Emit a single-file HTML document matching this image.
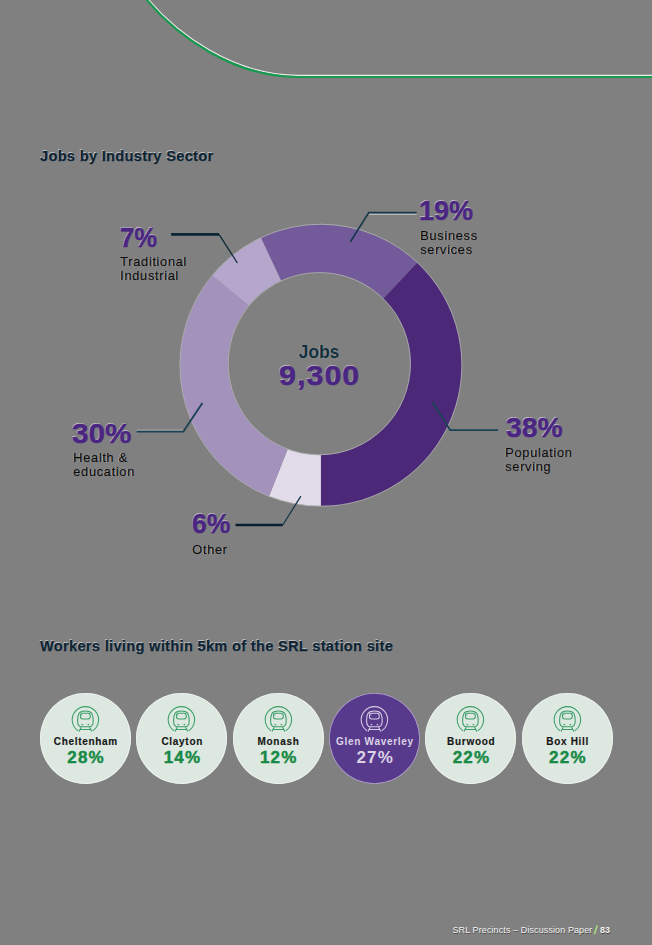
<!DOCTYPE html>
<html>
<head>
<meta charset="utf-8">
<style>
html,body{margin:0;padding:0;}
body{width:652px;height:945px;background:#808080;position:relative;overflow:hidden;font-family:"Liberation Sans",sans-serif;}
.t{position:absolute;white-space:nowrap;line-height:1;}
.title{font-weight:bold;font-size:14.5px;color:#0c2333;-webkit-text-stroke:0.25px #0c2333;text-shadow:-0.6px -0.6px 0 rgba(255,255,255,0.5);}
.pct{font-weight:bold;font-size:28px;color:#4a2582;-webkit-text-stroke:0.5px #4a2582;text-shadow:-0.6px -0.6px 0 rgba(255,255,255,0.55);}
.lbl{font-size:13px;color:#0a0a0a;line-height:14px;letter-spacing:0.6px;-webkit-text-stroke:0.2px #0a0a0a;text-shadow:-0.6px -0.5px 0 rgba(255,255,255,0.6);}
.circ{position:absolute;width:91px;height:91px;border-radius:50%;background:#dde8e1;top:693px;box-shadow:inset 0 0 0 0.8px rgba(255,255,255,0.55);}
.circ .nm{position:absolute;left:0;right:0;top:44px;text-align:center;font-weight:bold;font-size:10px;letter-spacing:0.7px;text-indent:0.7px;color:#161616;-webkit-text-stroke:0.15px #161616;line-height:1;}
.circ .pc{position:absolute;left:0;right:0;top:56px;text-align:center;font-weight:bold;font-size:17px;letter-spacing:1.2px;text-indent:1.2px;color:#178a45;-webkit-text-stroke:0.45px #178a45;line-height:1;}
.circ svg{position:absolute;left:28px;top:7px;}
.circ.gw{background:#583a8c;}
.circ.gw .nm,.circ.gw .pc{color:#dcd4e6;-webkit-text-stroke:0 transparent;}
</style>
</head>
<body>
<svg width="652" height="945" style="position:absolute;left:0;top:0">
  <!-- green curve -->
  <path d="M145.2,-2 C176.1,35.8 233.3,77 297.2,77 L652,77" fill="none" stroke="#ffffff" stroke-width="1.2" transform="translate(0.6,-1.6)" opacity="0.85"/>
  <path d="M145.2,-2 C176.1,35.8 233.3,77 297.2,77 L652,77" fill="none" stroke="#169a4e" stroke-width="2.2"/>
  <!-- donut -->
  <g id="donut">
  <path fill="#735a9a" d="M320.90,365.25 L261.04,238.03 A140.60,140.60 0 0 1 417.15,262.76 Z"/>
  <path fill="#4b2878" d="M320.90,365.25 L417.15,262.76 A140.60,140.60 0 0 1 320.90,505.85 Z"/>
  <path fill="#e2dcea" d="M320.90,365.25 L320.90,505.85 A140.60,140.60 0 0 1 269.14,495.98 Z"/>
  <path fill="#a392bb" d="M320.90,365.25 L269.14,495.98 A140.60,140.60 0 0 1 212.57,275.63 Z"/>
  <path fill="#b4a7cb" d="M320.90,365.25 L212.57,275.63 A140.60,140.60 0 0 1 261.04,238.03 Z"/>
  <circle cx="319.35" cy="363.65" r="91.50" fill="#808080"/>
  <circle cx="320.90" cy="365.25" r="141.00" fill="none" stroke="#ffffff" stroke-width="0.8" opacity="0.4"/>
  <circle cx="319.35" cy="363.65" r="91.10" fill="none" stroke="#ffffff" stroke-width="0.8" opacity="0.4"/>
  </g>
  <!-- leader lines -->
  <g fill="none" stroke="#0f2b3a" stroke-linejoin="miter">
    <path d="M171.1,234.4 L219,234.4" stroke-width="2.7" stroke="#0a2535"/>
    <path d="M219,234.4 L237.4,263" stroke-width="1.3"/>
    <path d="M368.8,214.1 L416.7,214.1" stroke-width="1.2" stroke="#ffffff" opacity="0.6"/>
    <path d="M350.4,241.7 L368.8,212.6 L416.7,212.6" stroke-width="1.6" stroke="#17384a"/>
    <path d="M432.4,401.7 L450.2,430.2 L498,430.2" stroke-width="1.8" stroke="#1b4254"/>
    <path d="M136.7,430.2 L183.4,430.2" stroke-width="1" stroke="#ffffff" opacity="0.45"/>
    <path d="M136.7,431.6 L183.4,431.6 L202.4,403" stroke-width="1.8" stroke="#1b4254"/>
    <path d="M235.5,525 L282.8,525" stroke-width="2.3" stroke="#0a2030"/>
    <path d="M282.8,525 L300.9,496.1" stroke-width="1.3" stroke="#15384a"/>
  </g>
</svg>

<div class="t title" style="left:40px;top:149px;letter-spacing:0.36px;">Jobs by Industry Sector</div>

<div class="t pct" style="left:120px;top:224px;transform:scaleX(0.913);transform-origin:0 0;">7%</div>
<div class="t lbl" style="left:120px;top:255px;">Traditional<br>Industrial</div>

<div class="t pct" style="left:419px;top:197px;transform:scaleX(0.963);transform-origin:0 0;">19%</div>
<div class="t lbl" style="left:420px;top:229px;">Business<br>services</div>

<div class="t pct" style="left:506px;top:414px;transform:scaleX(1.01);transform-origin:0 0;">38%</div>
<div class="t lbl" style="left:505px;top:446px;">Population<br>serving</div>

<div class="t pct" style="left:72px;top:420px;transform:scaleX(1.06);transform-origin:0 0;">30%</div>
<div class="t lbl" style="left:73px;top:451px;">Health &amp;<br>education</div>

<div class="t pct" style="left:192px;top:510px;transform:scaleX(0.946);transform-origin:0 0;">6%</div>
<div class="t lbl" style="left:192px;top:543px;">Other</div>

<div class="t" style="left:298.5px;top:343.5px;font-size:17.5px;font-weight:bold;color:#12303e;text-shadow:-0.5px -0.5px 0 rgba(255,255,255,0.45);">Jobs</div>
<div class="t" style="left:278.5px;top:363px;font-size:27px;font-weight:bold;letter-spacing:1px;color:#4a2582;-webkit-text-stroke:0.6px #4a2582;transform:scaleX(1.12);transform-origin:0 0;text-shadow:-0.6px -0.6px 0 rgba(255,255,255,0.5);">9,300</div>

<div class="t title" style="left:40px;top:639px;letter-spacing:0.36px;">Workers living within 5km of the SRL station site</div>

<div id="circles">
<div class="circ" style="left:40.0px;"><svg width="36" height="36" viewBox="0 0 36 36" fill="none" stroke="#3a9e66" stroke-width="1.05"><path d="M10.1,30.8 A13.2,13.2 0 1 1 24.7,30.8"/><path d="M9.6,21 C9.6,13.5 11.5,11 17.4,11 C23.3,11 25.2,13.5 25.2,21 C25.2,24.8 23.4,26.8 21,26.8 L13.8,26.8 C11.4,26.8 9.6,24.8 9.6,21 Z"/><rect x="12.5" y="13.3" width="9.7" height="5.7" rx="2.2"/><path d="M13.6,15.2 L14.4,15.2" stroke-width="0.8"/><path d="M13.6,24.3 L15.2,24.9 M21.2,24.3 L19.6,24.9" stroke-width="1.1"/><path d="M13.2,27.2 L11,31.6 M21.6,27.2 L23.8,31.6 M12.4,29.4 L22.4,29.4"/></svg><div class="nm">Cheltenham</div><div class="pc">28%</div></div>
<div class="circ" style="left:136.4px;"><svg width="36" height="36" viewBox="0 0 36 36" fill="none" stroke="#3a9e66" stroke-width="1.05"><path d="M10.1,30.8 A13.2,13.2 0 1 1 24.7,30.8"/><path d="M9.6,21 C9.6,13.5 11.5,11 17.4,11 C23.3,11 25.2,13.5 25.2,21 C25.2,24.8 23.4,26.8 21,26.8 L13.8,26.8 C11.4,26.8 9.6,24.8 9.6,21 Z"/><rect x="12.5" y="13.3" width="9.7" height="5.7" rx="2.2"/><path d="M13.6,15.2 L14.4,15.2" stroke-width="0.8"/><path d="M13.6,24.3 L15.2,24.9 M21.2,24.3 L19.6,24.9" stroke-width="1.1"/><path d="M13.2,27.2 L11,31.6 M21.6,27.2 L23.8,31.6 M12.4,29.4 L22.4,29.4"/></svg><div class="nm">Clayton</div><div class="pc">14%</div></div>
<div class="circ" style="left:232.7px;"><svg width="36" height="36" viewBox="0 0 36 36" fill="none" stroke="#3a9e66" stroke-width="1.05"><path d="M10.1,30.8 A13.2,13.2 0 1 1 24.7,30.8"/><path d="M9.6,21 C9.6,13.5 11.5,11 17.4,11 C23.3,11 25.2,13.5 25.2,21 C25.2,24.8 23.4,26.8 21,26.8 L13.8,26.8 C11.4,26.8 9.6,24.8 9.6,21 Z"/><rect x="12.5" y="13.3" width="9.7" height="5.7" rx="2.2"/><path d="M13.6,15.2 L14.4,15.2" stroke-width="0.8"/><path d="M13.6,24.3 L15.2,24.9 M21.2,24.3 L19.6,24.9" stroke-width="1.1"/><path d="M13.2,27.2 L11,31.6 M21.6,27.2 L23.8,31.6 M12.4,29.4 L22.4,29.4"/></svg><div class="nm">Monash</div><div class="pc">12%</div></div>
<div class="circ gw" style="left:329.1px;"><svg width="36" height="36" viewBox="0 0 36 36" fill="none" stroke="#d8d0e4" stroke-width="1.05"><path d="M10.1,30.8 A13.2,13.2 0 1 1 24.7,30.8"/><path d="M9.6,21 C9.6,13.5 11.5,11 17.4,11 C23.3,11 25.2,13.5 25.2,21 C25.2,24.8 23.4,26.8 21,26.8 L13.8,26.8 C11.4,26.8 9.6,24.8 9.6,21 Z"/><rect x="12.5" y="13.3" width="9.7" height="5.7" rx="2.2"/><path d="M13.6,15.2 L14.4,15.2" stroke-width="0.8"/><path d="M13.6,24.3 L15.2,24.9 M21.2,24.3 L19.6,24.9" stroke-width="1.1"/><path d="M13.2,27.2 L11,31.6 M21.6,27.2 L23.8,31.6 M12.4,29.4 L22.4,29.4"/></svg><div class="nm">Glen Waverley</div><div class="pc">27%</div></div>
<div class="circ" style="left:425.4px;"><svg width="36" height="36" viewBox="0 0 36 36" fill="none" stroke="#3a9e66" stroke-width="1.05"><path d="M10.1,30.8 A13.2,13.2 0 1 1 24.7,30.8"/><path d="M9.6,21 C9.6,13.5 11.5,11 17.4,11 C23.3,11 25.2,13.5 25.2,21 C25.2,24.8 23.4,26.8 21,26.8 L13.8,26.8 C11.4,26.8 9.6,24.8 9.6,21 Z"/><rect x="12.5" y="13.3" width="9.7" height="5.7" rx="2.2"/><path d="M13.6,15.2 L14.4,15.2" stroke-width="0.8"/><path d="M13.6,24.3 L15.2,24.9 M21.2,24.3 L19.6,24.9" stroke-width="1.1"/><path d="M13.2,27.2 L11,31.6 M21.6,27.2 L23.8,31.6 M12.4,29.4 L22.4,29.4"/></svg><div class="nm">Burwood</div><div class="pc">22%</div></div>
<div class="circ" style="left:521.8px;"><svg width="36" height="36" viewBox="0 0 36 36" fill="none" stroke="#3a9e66" stroke-width="1.05"><path d="M10.1,30.8 A13.2,13.2 0 1 1 24.7,30.8"/><path d="M9.6,21 C9.6,13.5 11.5,11 17.4,11 C23.3,11 25.2,13.5 25.2,21 C25.2,24.8 23.4,26.8 21,26.8 L13.8,26.8 C11.4,26.8 9.6,24.8 9.6,21 Z"/><rect x="12.5" y="13.3" width="9.7" height="5.7" rx="2.2"/><path d="M13.6,15.2 L14.4,15.2" stroke-width="0.8"/><path d="M13.6,24.3 L15.2,24.9 M21.2,24.3 L19.6,24.9" stroke-width="1.1"/><path d="M13.2,27.2 L11,31.6 M21.6,27.2 L23.8,31.6 M12.4,29.4 L22.4,29.4"/></svg><div class="nm">Box Hill</div><div class="pc">22%</div></div>
</div>

<div class="t" style="left:452.5px;top:926px;font-size:9px;letter-spacing:0.1px;color:#f4f4f4;text-shadow:0.5px 0.5px 0 rgba(20,20,20,0.55);" id="ft1">SRL Precincts – Discussion Paper</div>
<div class="t" style="left:594px;top:924px;font-size:12px;font-weight:bold;color:#b0dc80;transform:skewX(-8deg);">/</div>
<div class="t" style="left:600px;top:926px;font-size:9px;font-weight:bold;color:#f4f4f4;text-shadow:0.5px 0.5px 0 rgba(20,20,20,0.55);">83</div>

</body>
</html>
